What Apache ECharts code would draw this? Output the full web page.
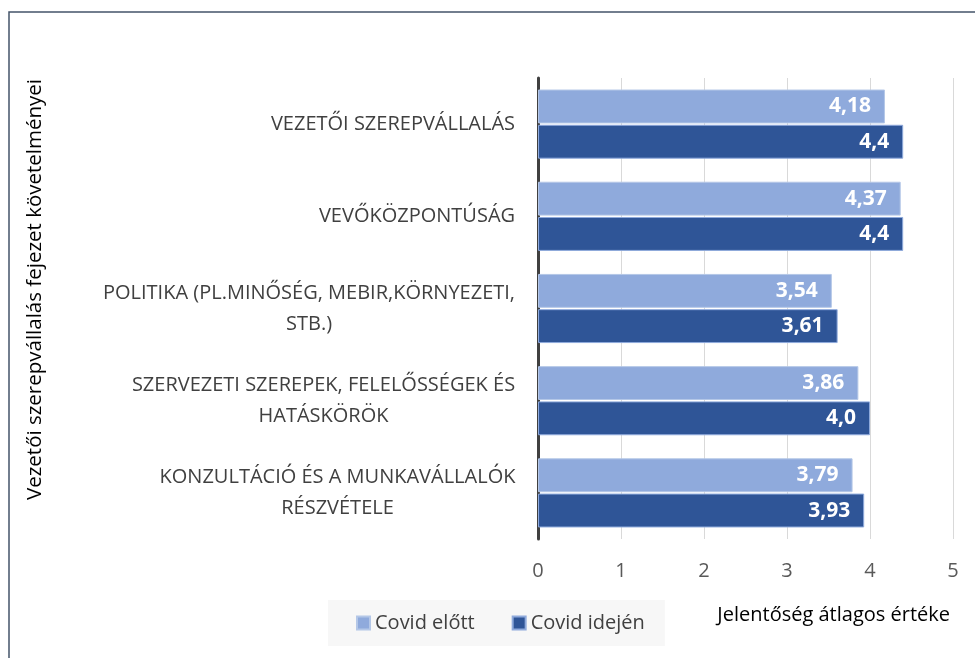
<!DOCTYPE html>
<html>
<head>
<meta charset="utf-8">
<script src="https://cdn.jsdelivr.net/npm/echarts@6/dist/echarts.min.js"></script>
<style>
  html, body { margin: 0; padding: 0; background: #fff; }
  #main { width: 975px; height: 658px; }
</style>
</head>
<body>
<div id="main"></div>
<script>
// adatok
var categories = [
  'VEZETŐI SZEREPVÁLLALÁS',
  'VEVŐKÖZPONTÚSÁG',
  'POLITIKA (PL.MINŐSÉG, MEBIR,KÖRNYEZETI,\nSTB.)',
  'SZERVEZETI SZEREPEK, FELELŐSSÉGEK ÉS\nHATÁSKÖRÖK',
  'KONZULTÁCIÓ ÉS A MUNKAVÁLLALÓK\nRÉSZVÉTELE'
];
var seriesNames = ['Covid előtt', 'Covid idején'];
var before = [4.18, 4.37, 3.54, 3.86, 3.79];
var during = [4.4, 4.4, 3.61, 4.0, 3.93];
var beforeLabels = ['4,18', '4,37', '3,54', '3,86', '3,79'];
var duringLabels = ['4,4', '4,4', '3,61', '4,0', '3,93'];
var xTicks = [0, 1, 2, 3, 4, 5];

var FONT = '"Open Sans", "Noto Sans", sans-serif';
var labelSize = 20;

// sorok szélessége, hogy a többsoros feliratok középre igazodjanak
var ctx = document.createElement('canvas').getContext('2d');
ctx.font = labelSize + 'px "Open Sans"';
var rich = {};
categories.forEach(function (c, i) {
  var w = 0;
  c.split('\n').forEach(function (l) { w = Math.max(w, ctx.measureText(l).width); });
  rich['c' + i] = { width: Math.ceil(w) + 1, align: 'center', fontSize: labelSize, fontFamily: FONT, color: '#404040', lineHeight: 31 };
});

var myChart = echarts.init(document.getElementById('main'));

var option = {
  backgroundColor: '#fff',
  textStyle: { fontFamily: FONT },
  graphic: [{
    type: 'rect',
    shape: { x: 9, y: 12, width: 1000, height: 700 },
    style: { fill: 'none', stroke: '#44546a', lineWidth: 1.5 },
    silent: true
  }],
  legend: {
    data: seriesNames,
    left: 328,
    top: 600,
    padding: [13, 20, 13, 28],
    backgroundColor: '#f7f7f7',
    itemWidth: 13,
    itemHeight: 13,
    itemGap: 37,
    icon: 'rect',
    textStyle: { fontSize: 20, color: '#404040', fontFamily: FONT }
  },
  grid: { left: 538, right: 22, top: 78, bottom: 119 },
  xAxis: {
    type: 'value',
    min: 0,
    max: 5,
    interval: 1,
    name: 'Jelentőség átlagos értéke',
    nameLocation: 'end',
    nameGap: -3,
    nameTextStyle: { align: 'right', verticalAlign: 'top', padding: [66, 0, 0, 0], fontSize: 20, color: '#000', fontFamily: FONT },
    axisLine: { show: false },
    axisTick: { show: false },
    axisLabel: {
      fontSize: 20, color: '#595959', margin: 22,
      formatter: function (v) { return xTicks.indexOf(v) >= 0 ? String(v) : ''; }
    },
    splitLine: { show: true, lineStyle: { color: '#d9d9d9', width: 1 } }
  },
  yAxis: {
    type: 'category',
    inverse: true,
    data: categories,
    name: 'Vezetői szerepvállalás fejezet követelményei',
    nameLocation: 'middle',
    nameRotate: 90,
    nameGap: 492,
    nameTextStyle: { fontSize: 20.5, color: '#000', fontFamily: FONT, padding: [0, 0, 0, 38] },
    axisLine: { show: true, lineStyle: { color: '#404040', width: 3 } },
    axisTick: { show: false },
    axisLabel: {
      margin: 22,
      formatter: function (v, i) {
        return v.split('\n').map(function (l) { return '{c' + i + '|' + l + '}'; }).join('\n');
      },
      rich: rich
    }
  },
  series: [
    {
      name: seriesNames[0],
      type: 'bar',
      data: before,
      barCategoryGap: '25%',
      barGap: '4%',
      itemStyle: { color: '#8faadc', borderColor: '#b4c7e7', borderWidth: 1 },
      label: {
        show: true, position: 'insideRight', distance: 14,
        color: '#fff', fontWeight: 'bold', fontSize: 21, fontFamily: FONT,
        formatter: function (p) { return beforeLabels[p.dataIndex]; }
      }
    },
    {
      name: seriesNames[1],
      type: 'bar',
      data: during,
      barCategoryGap: '25%',
      barGap: '4%',
      itemStyle: { color: '#2f5597', borderColor: '#8faadc', borderWidth: 1 },
      label: {
        show: true, position: 'insideRight', distance: 14,
        color: '#fff', fontWeight: 'bold', fontSize: 21, fontFamily: FONT,
        formatter: function (p) { return duringLabels[p.dataIndex]; }
      }
    }
  ]
};

myChart.setOption(option);
</script>
</body>
</html>
